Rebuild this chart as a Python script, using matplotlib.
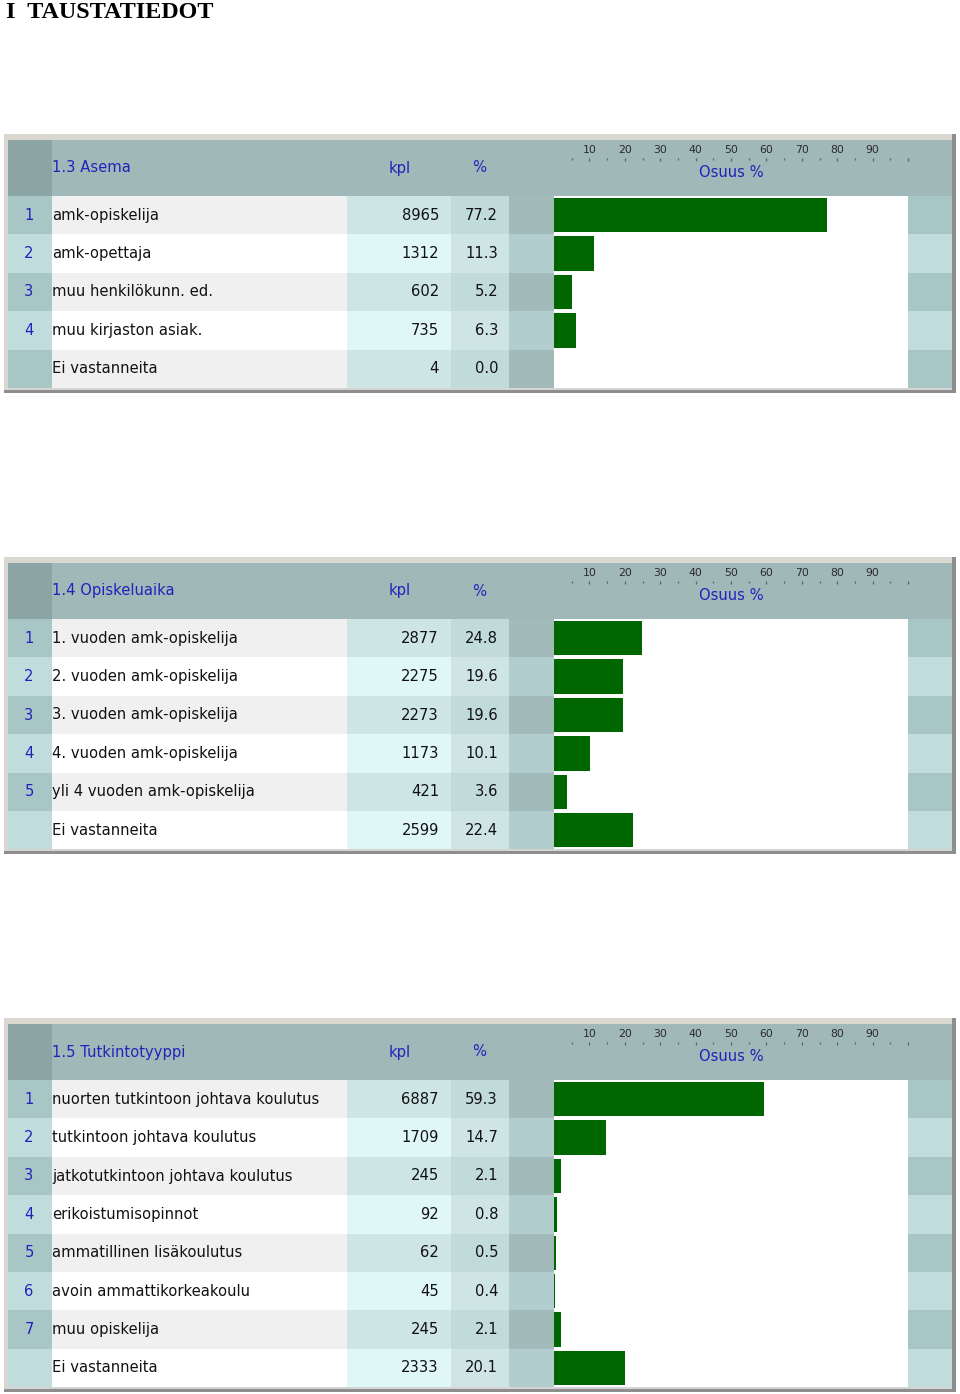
import matplotlib
import matplotlib.pyplot as plt
from matplotlib.patches import Rectangle
from matplotlib.ticker import MultipleLocator, FixedLocator

matplotlib.use("Agg")

W, H = 960, 1394
ROW_H = 38.4
BLUE = "#2222bb"
GREEN = "#006600"
HEAD = "#a0b8b8"
HEAD_DARK = "#8ba5a5"

PAGE_TITLE = "I  TAUSTATIEDOT"

ASEMA_TITLE = "1.3 Asema"
ASEMA_NUM = ["1", "2", "3", "4", ""]
ASEMA_LABELS = ["amk-opiskelija", "amk-opettaja", "muu henkilökunn. ed.",
                "muu kirjaston asiak.", "Ei vastanneita"]
ASEMA_KPL = [8965, 1312, 602, 735, 4]
ASEMA_PCT = [77.2, 11.3, 5.2, 6.3, 0.0]

AIKA_TITLE = "1.4 Opiskeluaika"
AIKA_NUM = ["1", "2", "3", "4", "5", ""]
AIKA_LABELS = ["1. vuoden amk-opiskelija", "2. vuoden amk-opiskelija",
               "3. vuoden amk-opiskelija", "4. vuoden amk-opiskelija",
               "yli 4 vuoden amk-opiskelija", "Ei vastanneita"]
AIKA_KPL = [2877, 2275, 2273, 1173, 421, 2599]
AIKA_PCT = [24.8, 19.6, 19.6, 10.1, 3.6, 22.4]

TYYPPI_TITLE = "1.5 Tutkintotyyppi"
TYYPPI_NUM = ["1", "2", "3", "4", "5", "6", "7", ""]
TYYPPI_LABELS = ["nuorten tutkintoon johtava koulutus", "tutkintoon johtava koulutus",
                 "jatkotutkintoon johtava koulutus", "erikoistumisopinnot",
                 "ammatillinen lisäkoulutus", "avoin ammattikorkeakoulu",
                 "muu opiskelija", "Ei vastanneita"]
TYYPPI_KPL = [6887, 1709, 245, 92, 62, 45, 245, 2333]
TYYPPI_PCT = [59.3, 14.7, 2.1, 0.8, 0.5, 0.4, 2.1, 20.1]

SCALE_LABELS = [10, 20, 30, 40, 50, 60, 70, 80, 90]

# column edges (px) and alternating row colours per column
COLS = [(8, 52), (52, 347), (347, 451), (451, 509), (509, 554), (554, 908), (908, 952)]
COL_COLORS = [
    ("#a9c6c6", "#c1dcdc"),
    ("#f0f0f0", "#ffffff"),
    ("#cee5e5", "#e0f7f7"),
    ("#c1dbdb", "#cfe5e5"),
    ("#a2baba", "#b2cdcd"),
    ("#ffffff", "#ffffff"),
    ("#a9c6c6", "#c1dcdc"),
]

plt.rcParams["font.family"] = ["DejaVu Sans"]
FS = 10.6

fig = plt.figure(figsize=(W / 100, H / 100), dpi=100)
bg = fig.add_axes([0, 0, 1, 1])
bg.set_xlim(0, W)
bg.set_ylim(H, 0)
bg.axis("off")


def px_axes(x0, y0, x1, y1):
    return fig.add_axes([x0 / W, 1 - y1 / H, (x1 - x0) / W, (y1 - y0) / H])


def rect(x0, y0, x1, y1, color):
    bg.add_patch(Rectangle((x0, y0), x1 - x0, y1 - y0, facecolor=color,
                           edgecolor="none", lw=0))


def draw_panel(top, title, nums, labels, kpl, pct):
    n = len(labels)
    y0 = top + 62
    y1 = y0 + n * ROW_H

    # raised frame
    rect(4, top, 956, y1 + 5, "#dad7d0")
    rect(952, top, 956, y1 + 5, "#8e8e8e")
    rect(4, y1 + 1.5, 956, y1 + 5, "#8e8e8e")
    rect(8, y1, 952, y1 + 1.5, "#d4d4d4")

    # header
    rect(8, top + 6, 952, y0, HEAD)
    rect(8, top + 6, 52, y0, HEAD_DARK)
    hy = top + 34
    bg.text(52, hy, title, color=BLUE, fontsize=FS, va="center", ha="left")
    bg.text(400, hy, "kpl", color=BLUE, fontsize=FS, va="center", ha="center")
    bg.text(479, hy, "%", color=BLUE, fontsize=FS, va="center", ha="center")

    # rows
    for i in range(n):
        ry0 = y0 + i * ROW_H
        ry1 = ry0 + ROW_H
        for (xa, xb), cc in zip(COLS, COL_COLORS):
            rect(xa, ry0, xb, ry1, cc[i % 2])
        cy = ry0 + ROW_H / 2
        bg.text(29, cy, nums[i], color=BLUE, fontsize=FS, va="center", ha="center")
        bg.text(52, cy, labels[i], color="#111111", fontsize=FS, va="center", ha="left")
        bg.text(439, cy, str(kpl[i]), color="#111111", fontsize=FS, va="center", ha="right")
        bg.text(498, cy, f"{pct[i]:.1f}", color="#111111", fontsize=FS, va="center", ha="right")

    # bars
    axb = px_axes(554, y0, 908, y1)
    axb.barh(range(n), pct, height=0.9, color=GREEN, left=0)
    axb.set_xlim(0, 100)
    axb.set_ylim(n - 0.5, -0.5)
    axb.axis("off")

    # percent scale in the header
    axt = px_axes(554, top + 24, 908, top + 26)
    axt.set_xlim(0, 100)
    axt.set_ylim(0, 1)
    axt.patch.set_visible(False)
    for s in axt.spines.values():
        s.set_visible(False)
    axt.xaxis.tick_top()
    axt.xaxis.set_major_locator(FixedLocator(SCALE_LABELS + [100]))
    axt.set_xticklabels([str(v) for v in SCALE_LABELS] + [""])
    axt.xaxis.set_minor_locator(MultipleLocator(10, offset=5))
    axt.tick_params(axis="x", which="major", direction="in", length=2.2, width=0.9,
                    color="#5a6464", pad=2.5, labelsize=7.8, labelcolor="#2a2a2a")
    axt.tick_params(axis="x", which="minor", direction="in", length=1.2, width=0.9,
                    color="#5a6464")
    axt.set_yticks([])
    axt.xaxis.set_label_position("bottom")
    axt.set_xlabel("Osuus %", color=BLUE, fontsize=FS, labelpad=3.5)


bg.text(6, 12, PAGE_TITLE, fontsize=17.4, fontweight="bold", va="center", ha="left",
        family=["Liberation Serif", "DejaVu Serif"])

draw_panel(134, ASEMA_TITLE, ASEMA_NUM, ASEMA_LABELS, ASEMA_KPL, ASEMA_PCT)
draw_panel(557, AIKA_TITLE, AIKA_NUM, AIKA_LABELS, AIKA_KPL, AIKA_PCT)
draw_panel(1018, TYYPPI_TITLE, TYYPPI_NUM, TYYPPI_LABELS, TYYPPI_KPL, TYYPPI_PCT)

fig.savefig("out.png", dpi=100)
